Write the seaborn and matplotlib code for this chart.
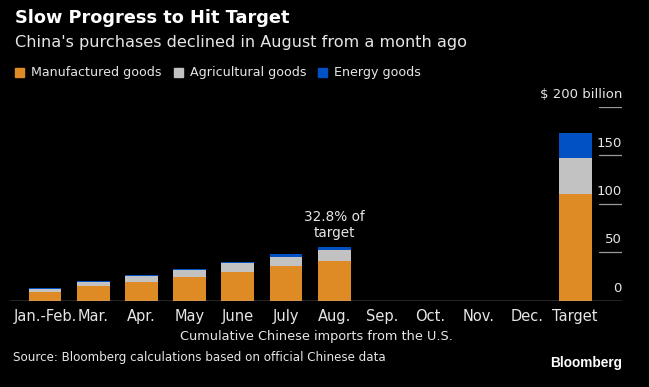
import numpy as np
import pandas as pd
import matplotlib
matplotlib.use("Agg")
import matplotlib.pyplot as plt
import seaborn as sns

categories = ["Jan.-Feb.", "Mar.", "Apr.", "May", "June", "July", "Aug.",
              "Sep.", "Oct.", "Nov.", "Dec.", "Target"]
manufactured = [9.0, 14.8, 18.9, 24.1, 30.0, 35.7, 41.1, 0, 0, 0, 0, 110.4]
agricultural = [3.5, 5.0, 7.0, 7.3, 8.6, 9.9, 11.7, 0, 0, 0, 0, 37.0]
energy = [0.4, 0.4, 0.6, 1.4, 1.4, 3.1, 3.1, 0, 0, 0, 0, 25.5]
y_ticks = [0, 50, 100, 150, 200]

BG = "#000000"
C_MAN = "#DE8B26"
C_AGR = "#C2C2C2"
C_ENE = "#0052C4"
TXT = "#E6E6E6"

sns.set_theme(style="dark")
plt.rcParams['font.family'] = ['DejaVu Sans']

df = pd.DataFrame({"cat": categories, "man": manufactured, "agr": agricultural, "ene": energy})
df["l2"] = df["man"] + df["agr"]
df["l3"] = df["l2"] + df["ene"]

fig = plt.figure(figsize=(6.49, 3.87), dpi=100, facecolor=BG)
ax = fig.add_axes([10/649, (387-300.7)/387, (622-10)/649, (300.7-107)/387])
ax.set_facecolor(BG)

sns.barplot(data=df, x="cat", y="l3", color=C_ENE, width=0.68, ax=ax, saturation=1, order=categories)
sns.barplot(data=df, x="cat", y="l2", color=C_AGR, width=0.68, ax=ax, saturation=1, order=categories)
sns.barplot(data=df, x="cat", y="man", color=C_MAN, width=0.68, ax=ax, saturation=1, order=categories)
for p in ax.patches:
    p.set_linewidth(0)

ax.set_xlim(-0.726, 11.97)
ax.set_ylim(0, 200)
ax.set_yticks([])
ax.grid(False)
for s in ax.spines.values():
    s.set_visible(False)
ax.axhline(0, color="#BBBBBB", lw=1.0, zorder=5)

for t in y_ticks[1:]:
    ax.axhline(t, xmin=0.962, xmax=1.0, color="#9A9A9A", lw=0.9)
for t in y_ticks:
    lab = str(t) if t != 200 else "$ 200 billion"
    ax.text(1.0, t + 6, lab, transform=ax.get_yaxis_transform(), ha="right", va="bottom",
            color=TXT, fontsize=9.5)

ax.set_xlabel("Cumulative Chinese imports from the U.S.", color=TXT, fontsize=9.3, labelpad=4)
ax.tick_params(axis="x", colors=TXT, labelsize=10.5, length=0, pad=6)
ax.set_ylabel("")

ax.text(6, 62.5, "32.8% of\ntarget", ha="center", va="bottom", color=TXT, fontsize=9.8, linespacing=1.2)

fig.text(15/649, 1 - 18/387, "Slow Progress to Hit Target", color="white", fontsize=12.8,
         fontweight="bold", ha="left", va="center")
fig.text(15/649, 1 - 42/387, "China's purchases declined in August from a month ago", color=TXT,
         fontsize=11.6, ha="left", va="center")

# legend
items = [("Manufactured goods", C_MAN), ("Agricultural goods", C_AGR), ("Energy goods", C_ENE)]
starts = [15, 174, 318]
for (lab, c), x0 in zip(items, starts):
    fig.patches.append(plt.Rectangle((x0/649, 1 - 77/387), 9/649, 9/387, transform=fig.transFigure,
                                     color=c, figure=fig))
    fig.text((x0 + 16)/649, 1 - 72.5/387, lab, color=TXT, fontsize=9.1, ha="left", va="center")

fig.text(13/649, 1 - 358/387, "Source: Bloomberg calculations based on official Chinese data",
         color=TXT, fontsize=8.6, ha="left", va="center")
fig.text(622/649, 1 - 363/387, "Bloomberg", color="white", fontsize=9.8, fontweight="bold",
         family=["Liberation Sans"], ha="right", va="center")

fig.savefig("out.png", dpi=100, facecolor=BG)
